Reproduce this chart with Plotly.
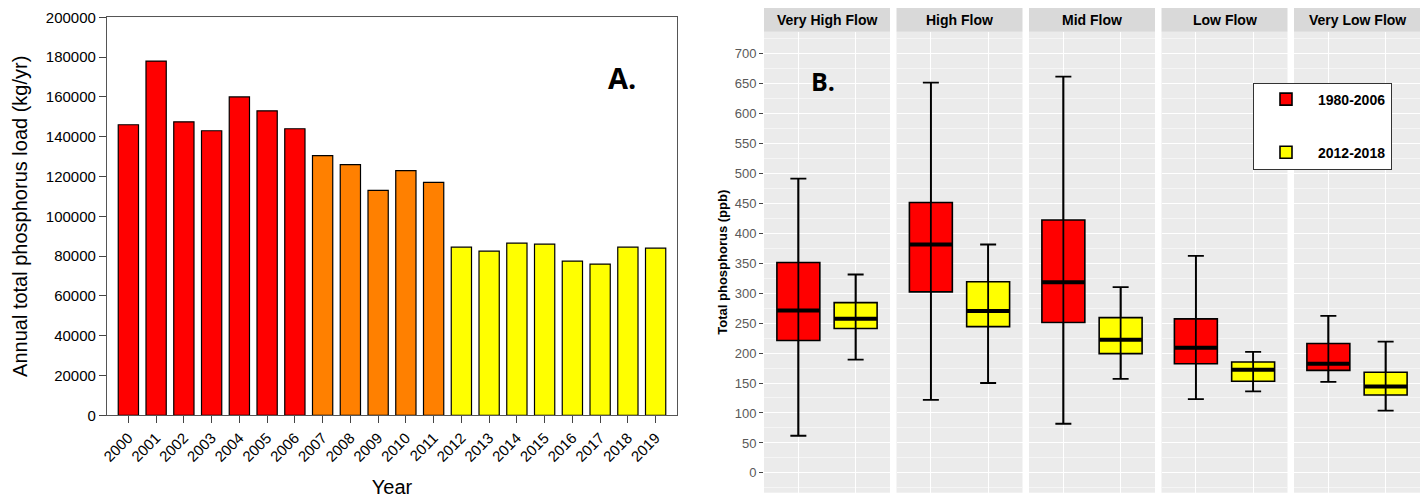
import plotly.graph_objects as go

# ---------------- Panel A data ----------------
years = [str(y) for y in range(2000, 2020)]
loads = [146000, 178000, 147500, 143000, 160000, 153000, 144000,
         130500, 126000, 113000, 123000, 117000,
         84500, 82500, 86500, 86000, 77500, 76000, 84500, 84000]
period_of_year = ["early"] * 7 + ["mid"] * 5 + ["late"] * 8
period_colors = {"early": "#FF0000", "mid": "#FF8000", "late": "#FFFF00"}
yticks_a = list(range(0, 200001, 20000))

# ---------------- Panel B data ----------------
flows = ["Very High Flow", "High Flow", "Mid Flow", "Low Flow", "Very Low Flow"]
periods = ["1980-2006", "2012-2018"]
box_colors = ["#FF0000", "#FFFF00"]
lo_1980 = [62, 122, 82, 123, 152]
q1_1980 = [221, 302, 251, 182, 171]
med_1980 = [271, 381, 318, 209, 182]
q3_1980 = [351, 451, 422, 257, 216]
hi_1980 = [491, 651, 661, 362, 262]
lo_2012 = [189, 150, 157, 136, 104]
q1_2012 = [241, 244, 199, 153, 130]
med_2012 = [257, 270, 222, 172, 144]
q3_2012 = [284, 319, 259, 185, 168]
hi_2012 = [331, 381, 310, 202, 219]
yticks_b = list(range(0, 701, 50))

stats = [
    (lo_1980, q1_1980, med_1980, q3_1980, hi_1980),
    (lo_2012, q1_2012, med_2012, q3_2012, hi_2012),
]

W, H = 1425, 499
FONT = "Liberation Sans"

fig = go.Figure()

fig.add_trace(go.Bar(
    x=years, y=loads,
    marker=dict(color=[period_colors[p] for p in period_of_year],
                line=dict(color="black", width=1.2)),
    width=0.73, showlegend=False, xaxis="x", yaxis="y",
))

panel_px = [(764, 890), (896.5, 1022.5), (1029, 1155), (1161.5, 1287.5), (1294, 1420)]
for k, flow in enumerate(flows):
    xa = "x" + str(k + 2)
    for j, period in enumerate(periods):
        lo, q1, med, q3, hi = stats[j]
        xpos = j + 1
        fig.add_trace(go.Box(
            x=[xpos], q1=[q1[k]], median=[med[k]], q3=[q3[k]],
            lowerfence=[lo[k]], upperfence=[hi[k]],
            fillcolor=box_colors[j], line=dict(color="black", width=1.6),
            width=0.75, whiskerwidth=0, boxpoints=False,
            name=period, legendgroup=period, showlegend=(k == 0),
            xaxis=xa, yaxis="y2",
        ))
        fig.add_trace(go.Scatter(
            x=[xpos], y=[med[k]], mode="markers",
            marker=dict(symbol="line-ew", size=30.5, color="black",
                        line=dict(width=4, color="black")),
            error_y=dict(type="data", symmetric=False,
                         array=[hi[k] - med[k]], arrayminus=[med[k] - lo[k]],
                         width=8, thickness=1.8, color="black"),
            showlegend=False, hoverinfo="skip",
            xaxis=xa, yaxis="y2",
        ))

layout = dict(
    width=W, height=H, autosize=False,
    margin=dict(l=0, r=0, t=0, b=0, pad=0, autoexpand=False),
    paper_bgcolor="white", plot_bgcolor="#EBEBEB",
    font=dict(family=FONT, color="black"),
    xaxis=dict(
        domain=[107 / W, 677 / W], type="category", range=[-0.77, 19.77],
        tickangle=-45, ticks="outside", ticklen=7, tickcolor="#444",
        showline=True, linecolor="#555", linewidth=1.2, mirror=True,
        showgrid=False, zeroline=False, automargin=False,
        tickfont=dict(size=15, family=FONT),
        title=dict(text="Year", font=dict(size=20, family=FONT), standoff=16),
        anchor="y",
    ),
    yaxis=dict(
        domain=[1 - 415.3 / H, 1 - 17.3 / H], range=[0, 200000],
        tickvals=yticks_a, tickformat="d",
        ticks="outside", ticklen=7, tickcolor="#444",
        showline=True, linecolor="#555", linewidth=1.2, mirror=True,
        showgrid=False, zeroline=False, automargin=False,
        tickfont=dict(size=15, family=FONT),
        title=dict(text="Annual total phosphorus load (kg/yr)",
                   font=dict(size=20, family=FONT), standoff=12),
        anchor="x",
    ),
    yaxis2=dict(
        domain=[1 - 492.7 / H, 1 - 31.7 / H], range=[-33, 736],
        tickvals=yticks_b, ticks="outside", ticklen=4, tickcolor="#444",
        tickfont=dict(size=13, color="#595959", family=FONT),
        showgrid=True, gridcolor="white", gridwidth=1.1, zeroline=False,
        automargin=False,
        minor=dict(dtick=25, tick0=0, showgrid=True, gridcolor="#F5F5F5", gridwidth=0.6),
        title=dict(text="<b>Total phosphorus (ppb)</b>",
                   font=dict(size=13, family=FONT), standoff=4),
        anchor="x2",
    ),
    legend=dict(
        x=1253 / W, y=1 - 126 / H, xanchor="left", yanchor="middle",
        bgcolor="white", bordercolor="#333", borderwidth=1,
        font=dict(size=14, family=FONT, weight="bold"), tracegroupgap=32,
        itemwidth=54,
    ),
)

shapes = [dict(type="rect", xref="x domain", yref="y domain", x0=0, x1=1, y0=0, y1=1,
               fillcolor="white", line=dict(width=0), layer="below")]
annotations = []
for k, flow in enumerate(flows):
    x0, x1 = panel_px[k]
    layout["xaxis" + str(k + 2)] = dict(
        domain=[x0 / W, x1 / W], range=[0.4, 2.6], anchor="y2",
        tickvals=[1, 2], showticklabels=False, ticks="", automargin=False,
        showgrid=True, gridcolor="white", gridwidth=1.1, zeroline=False,
    )
    shapes.append(dict(type="rect", xref="x" + str(k + 2) + " domain", yref="paper",
                       x0=0, x1=1, y0=1 - 31.7 / H, y1=1 - 8 / H,
                       fillcolor="#D9D9D9", line=dict(width=0)))
    annotations.append(dict(text="<b>" + flow + "</b>", xref="x" + str(k + 2) + " domain",
                            yref="paper", x=0.5, y=1 - 20 / H, showarrow=False,
                            xanchor="center", yanchor="middle",
                            font=dict(size=14, family=FONT, color="black")))

annotations.append(dict(text="<b>A.</b>", xref="paper", yref="paper", x=622 / W, y=1 - 78 / H,
                        showarrow=False, xanchor="center", yanchor="middle",
                        font=dict(size=29, family="Open Sans", color="black")))
annotations.append(dict(text="<b>B.</b>", xref="paper", yref="paper", x=822.7 / W, y=1 - 81 / H,
                        showarrow=False, xanchor="center", yanchor="middle",
                        font=dict(size=25, family="Open Sans", color="black")))

layout["shapes"] = shapes
layout["annotations"] = annotations
fig.update_layout(**layout)

post_js = (
    "document.documentElement.style.margin='0';"
    "document.body.style.margin='0';"
    "document.body.style.padding='0';"
)
fig.write_html("out.html", post_script=post_js)
